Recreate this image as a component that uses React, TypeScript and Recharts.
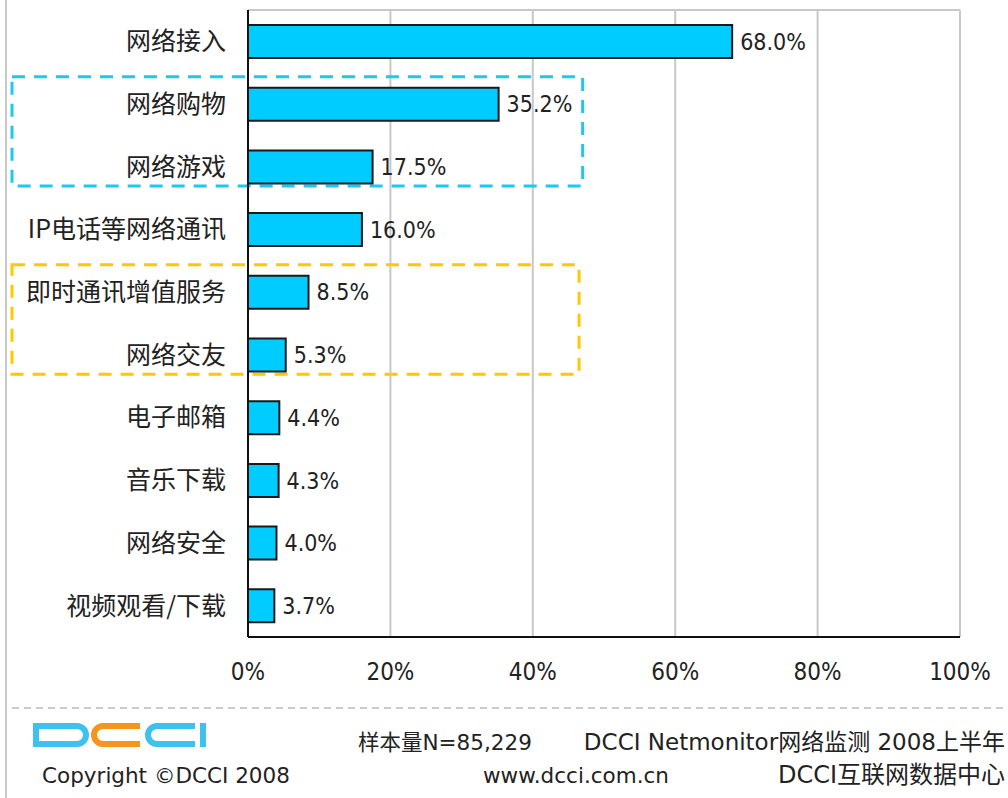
import React from 'react'
import {
	BarChart,
	Bar,
	XAxis,
	YAxis,
	CartesianGrid,
	LabelList,
	ReferenceArea,
} from 'recharts'

// usage share of paid internet services, DCCI 2008 H1
const categories = [
	'网络接入',
	'网络购物',
	'网络游戏',
	'IP电话等网络通讯',
	'即时通讯增值服务',
	'网络交友',
	'电子邮箱',
	'音乐下载',
	'网络安全',
	'视频观看/下载',
]
const shares = [68.0, 35.2, 17.5, 16.0, 8.5, 5.3, 4.4, 4.3, 4.0, 3.7]
const xTicks = [0, 20, 40, 60, 80, 100]
const blueGroup = ['网络购物', '网络游戏']
const yellowGroup = ['即时通讯增值服务', '网络交友']

const data = categories.map((name, i) => ({ name, value: shares[i] }))

const CJK = '"Noto Sans CJK SC", "DejaVu Sans", sans-serif'
const NUM = '"Liberation Sans Narrow", "DejaVu Sans Condensed", "DejaVu Sans", sans-serif'
const FOOT = '"DejaVu Sans", "Noto Sans CJK SC", sans-serif'

// dashed highlight box, stretched left into the label column
const groupBox = (color: string) => (props: any) => {
	const { x, y, width, height } = props
	const left = 12
	return (
		<rect
			x={left}
			y={y + 4}
			width={x + width - left}
			height={height - 16}
			fill="none"
			stroke={color}
			strokeWidth={3}
			strokeDasharray="13 9"
		/>
	)
}

const Logo = () => (
	<g fill="none" strokeWidth={6}>
		<path d="M36,726 H77 A9,9 0 0 1 86,735 A9,9 0 0 1 77,744 H36 Z" stroke="#3ec1ee" />
		<path d="M140,726 H103 A9,9 0 0 0 94,735 A9,9 0 0 0 103,744 H140" stroke="#f7941d" />
		<path d="M195,726 H157 A9,9 0 0 0 148,735 A9,9 0 0 0 157,744 H195" stroke="#3ec1ee" />
		<rect x={200} y={723} width={6} height={24} fill="#3ec1ee" stroke="none" />
	</g>
)

export default function App() {
	return (
		<div
			style={{
				position: 'absolute',
				left: 0,
				top: 0,
				width: 1008,
				height: 798,
				background: '#fff',
			}}
		>
			<BarChart
				width={1008}
				height={798}
				data={data}
				layout="vertical"
				margin={{ top: 10, right: 48, bottom: 131, left: 0 }}
			>
				<CartesianGrid
					stroke="#c8c8c8"
					strokeWidth={2}
					horizontalCoordinatesGenerator={(p: any) => [p.offset.top]}
				/>
				<XAxis
					type="number"
					domain={[0, 100]}
					ticks={xTicks}
					tickFormatter={(v) => `${v}%`}
					axisLine={{ stroke: '#111', strokeWidth: 2 }}
					tickLine={false}
					tickSize={0}
					tickMargin={26}
					height={30}
					tick={{ fontSize: 24, fontFamily: NUM, fill: '#222' }}
				/>
				<YAxis
					type="category"
					dataKey="name"
					width={248}
					interval={0}
					tickLine={false}
					tickSize={0}
					tickMargin={22}
					axisLine={{ stroke: '#111', strokeWidth: 2 }}
					tick={{ fontSize: 25, fontFamily: CJK, fill: '#222' }}
				/>
				<Bar
					dataKey="value"
					fill="#00ccff"
					stroke="#1a1a1a"
					strokeWidth={2}
					barSize={33}
					isAnimationActive={false}
				>
					<LabelList
						dataKey="value"
						position="right"
						offset={8}
						formatter={(v: any) => `${Number(v).toFixed(1)}%`}
						style={{ fontSize: 23, fontFamily: NUM, fill: '#222' }}
					/>
				</Bar>
				<ReferenceArea
					y1={blueGroup[0]}
					y2={blueGroup[1]}
					x2={47}
					ifOverflow="visible"
					shape={groupBox('#1ec8f0')}
				/>
				<ReferenceArea
					y1={yellowGroup[0]}
					y2={yellowGroup[1]}
					x2={46.5}
					ifOverflow="visible"
					shape={groupBox('#ffc800')}
				/>
			</BarChart>
			<svg
				width={1008}
				height={798}
				style={{ position: 'absolute', left: 0, top: 0, pointerEvents: 'none' }}
			>
				<line x1={6} y1={0} x2={6} y2={798} stroke="#c8c8c8" strokeWidth={2} />
				<line
					x1={12}
					y1={708}
					x2={1008}
					y2={708}
					stroke="#bbbbbb"
					strokeWidth={1.5}
					strokeDasharray="7 5"
				/>
				<Logo />
				<g fontFamily={FOOT} fontSize={21.5} fill="#222">
					<text x={42} y={783}>Copyright ©DCCI 2008</text>
					<text x={358} y={750}>样本量N=85,229</text>
					<text x={1005} y={750} textAnchor="end" fontSize={23}>
						DCCI Netmonitor网络监测 2008上半年
					</text>
					<text x={483} y={783}>www.dcci.com.cn</text>
					<text x={1005} y={783} textAnchor="end" fontSize={24}>
						DCCI互联网数据中心
					</text>
				</g>
			</svg>
		</div>
	)
}
